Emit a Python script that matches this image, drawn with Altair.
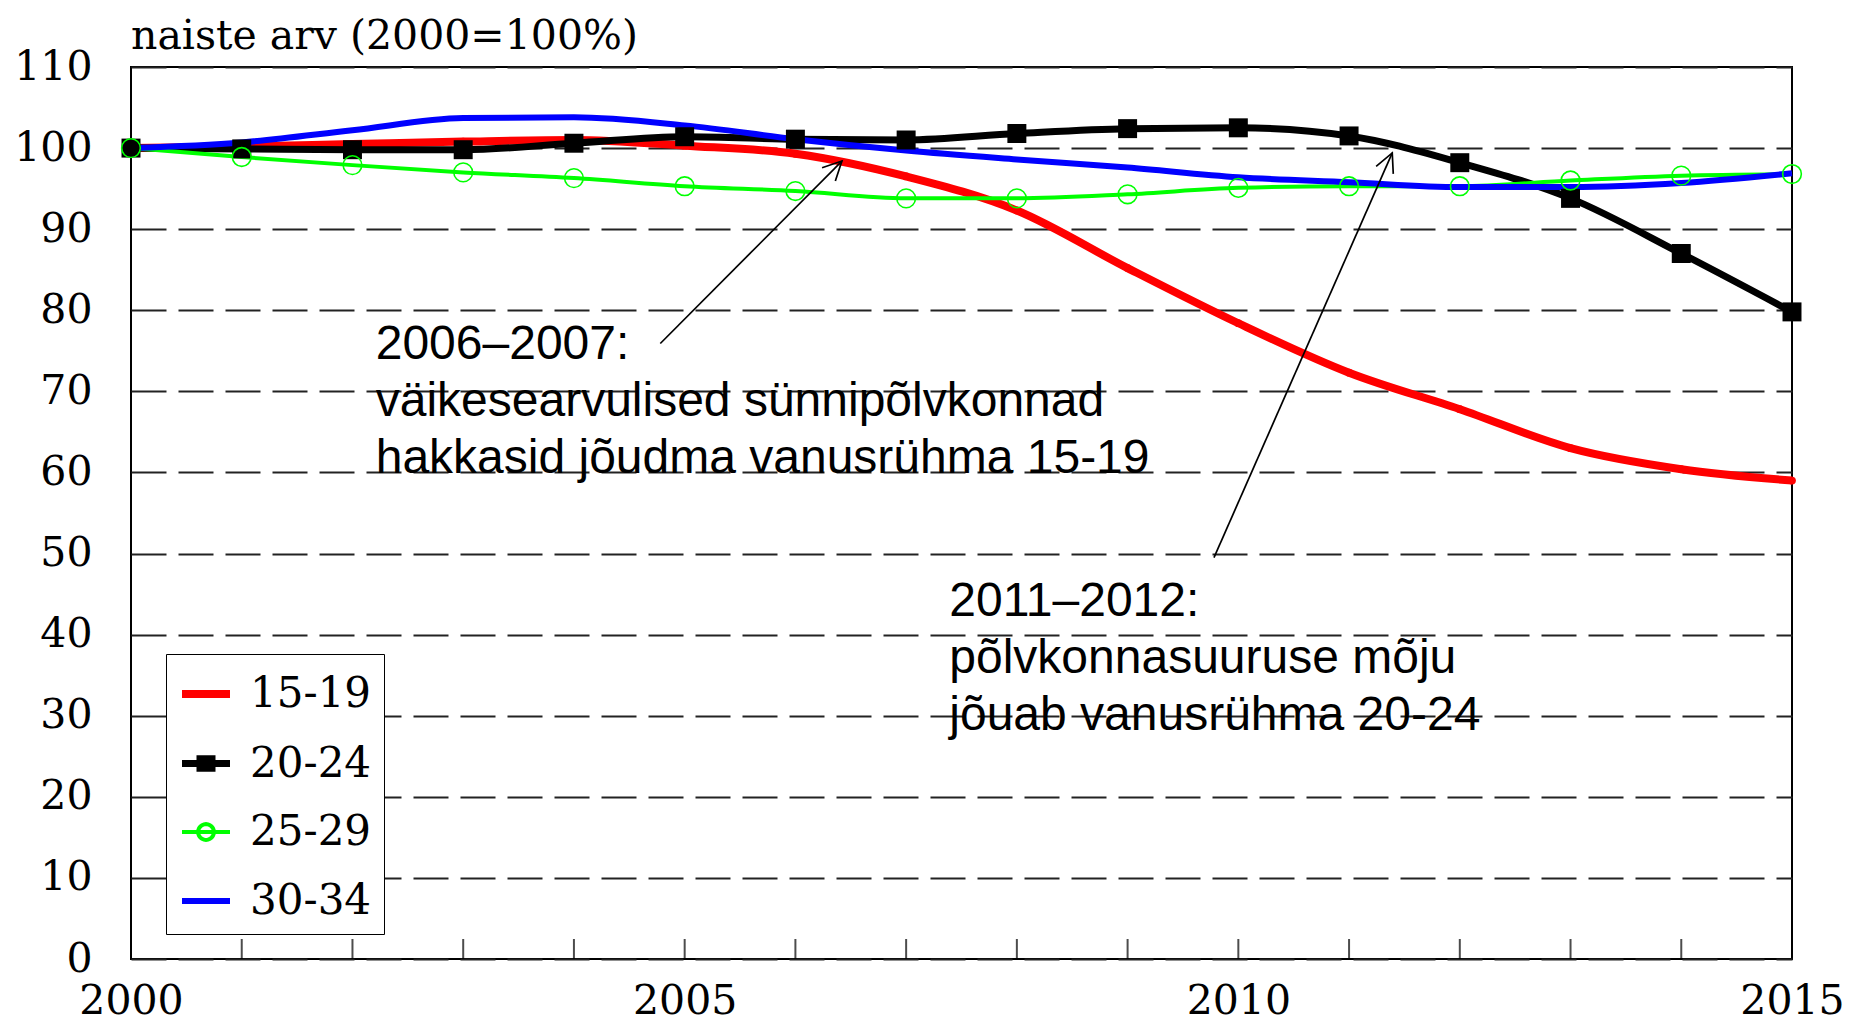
import math
import altair as alt
import pandas as pd

# ---------------- data ----------------
years = list(range(2000, 2016))
series_names = ["15-19", "20-24", "25-29", "30-34"]
v_15_19 = [100, 100.2, 100.5, 100.8, 101.0, 100.3, 99.3, 96.5, 92.3, 85.2, 78.4, 72.3, 67.8, 63.0, 60.4, 59.0]
v_20_24 = [100, 99.9, 99.8, 99.8, 100.6, 101.4, 101.1, 101.0, 101.8, 102.4, 102.5, 101.5, 98.2, 93.8, 87.0, 79.8]
v_25_29 = [100, 98.9, 97.9, 97.0, 96.3, 95.3, 94.7, 93.8, 93.8, 94.3, 95.1, 95.3, 95.3, 96.0, 96.6, 96.8]
v_30_34 = [100, 100.7, 102.2, 103.7, 103.8, 102.8, 101.1, 99.7, 98.6, 97.6, 96.4, 95.8, 95.2, 95.2, 95.7, 96.9]

x_label_years = [2000, 2005, 2010, 2015]
y_tick_values = list(range(0, 111, 10))
title_text = "naiste arv (2000=100%)"

ann_text = [
    "2006\u20132007:\nväikesearvulised sünnipõlvkonnad\nhakkasid jõudma vanusrühma 15-19",
    "2011\u20132012:\npõlvkonnasuuruse mõju\njõuab vanusrühma 20-24",
]
ann_x = [2002.21, 2007.39]
ann_y = [74.0, 42.3]

arrow_x = [2004.78, 2009.78]
arrow_y = [75.9, 49.5]
arrow_x2 = [2006.42, 2011.39]
arrow_y2 = [98.4, 99.4]

# ---------------- styles ----------------
W, H = 1661, 892
colors = ["#ff0000", "#000000", "#00ff00", "#0000ff"]
widths = [8, 7, 4, 6]
SERIF = "DejaVu Serif"
SANS = "Liberation Sans"


def circle_path(r, n=24):
    pts = []
    for i in range(n):
        a = 2 * math.pi * i / n
        pts.append(f"{r*math.cos(a):.3f},{r*math.sin(a):.3f}")
    return "M" + "L".join(pts) + "Z"


legend_shapes = [
    "M-1,0H1",
    "M-1,0H1M-0.25,-0.2H0.25V0.2H-0.25Z",
    "M-1,0H1" + circle_path(0.33),
    "M-1,0H1",
]
fills = ["#ff0000", "#000000", "transparent", "#0000ff"]
vhead = "M-0.5,1L0,0L0.5,1"

series_values = [v_15_19, v_20_24, v_25_29, v_30_34]
rows = []
for name, vals in zip(series_names, series_values):
    for yr, v in zip(years, vals):
        rows.append({"year": yr, "val": v, "series": name})
df = pd.DataFrame(rows)

df_ticks = pd.DataFrame({"year": years[1:-1]})
df_ann = pd.DataFrame({"x": ann_x, "y": ann_y, "label": ann_text})
df_arrow = pd.DataFrame({"x": arrow_x, "y": arrow_y, "x2": arrow_x2, "y2": arrow_y2})
angles = []
for x1, y1, x2, y2 in zip(arrow_x, arrow_y, arrow_x2, arrow_y2):
    dxp = (x2 - x1) * W / 15.0
    dyp = (y2 - y1) * H / 110.0
    angles.append((math.degrees(math.atan2(dxp, dyp)) + 360) % 360)
df_head = pd.DataFrame({"x": arrow_x2, "y": arrow_y2, "angle": angles})

x_scale = alt.Scale(domain=[2000, 2015], nice=False, zero=False)
y_scale = alt.Scale(domain=[0, 110], nice=False, zero=False)

x_enc = alt.X(
    "year:Q",
    scale=x_scale,
    axis=alt.Axis(
        values=x_label_years, format="d", grid=False, ticks=False, domain=False,
        labelFont=SERIF, labelFontSize=41, labelColor="black", labelPadding=54,
        labelBaseline="alphabetic", labelFlush=False, labelOverlap=False, title=None,
    ),
)
y_enc = alt.Y(
    "val:Q",
    scale=y_scale,
    axis=alt.Axis(
        values=y_tick_values, grid=True, gridDash=[35, 12], gridColor="#222", gridWidth=2,
        ticks=False, domain=False, labelFont=SERIF, labelFontSize=41, labelColor="black",
        labelPadding=39, labelFlush=False, title=None,
    ),
)

# one line layer per series (fixed colour / width)
line_layers = []
for name, col, wd in zip(series_names, colors, widths):
    line_layers.append(
        alt.Chart(df).transform_filter(alt.datum.series == name)
        .mark_line(interpolate="monotone", color=col, strokeWidth=wd)
        .encode(x=x_enc, y=y_enc)
    )

red_pts = alt.Chart(df).transform_filter(alt.datum.series == "15-19").mark_circle(
    size=60, color="#ff0000", opacity=1
).encode(x="year:Q", y="val:Q")
black_pts = alt.Chart(df).transform_filter(alt.datum.series == "20-24").mark_square(
    size=360, color="#000000", opacity=1
).encode(x="year:Q", y="val:Q")
green_pts = alt.Chart(df).transform_filter(alt.datum.series == "25-29").mark_point(
    shape="circle", size=350, filled=False, strokeWidth=1.6, color="#00ff00", opacity=1
).encode(x="year:Q", y="val:Q")

leg = alt.Legend(
    orient="none", legendX=35, legendY=587, title=None, padding=12, rowPadding=21,
    labelFont=SERIF, labelFontSize=42, labelColor="black", labelOffset=16,
    strokeColor="black", fillColor="white", symbolSize=2304, symbolOpacity=1,
    cornerRadius=0,
)
legend_layer = alt.Chart(df).mark_point(opacity=0, filled=True).encode(
    x="year:Q",
    y="val:Q",
    shape=alt.Shape("series:N", scale=alt.Scale(domain=series_names, range=legend_shapes), legend=leg),
    fill=alt.Fill("series:N", scale=alt.Scale(domain=series_names, range=fills), legend=leg),
    stroke=alt.Stroke("series:N", scale=alt.Scale(domain=series_names, range=colors), legend=leg),
    strokeWidth=alt.StrokeWidth(
        "series:N", scale=alt.Scale(type="ordinal", domain=series_names, range=widths), legend=leg
    ),
)

ticks = alt.Chart(df_ticks).mark_tick(
    orient="vertical", size=40, thickness=2, color="black", clip=True
).encode(x="year:Q", y=alt.datum(0))

arrows = alt.Chart(df_arrow).mark_rule(color="black", strokeWidth=1.7).encode(
    x="x:Q", y="y:Q", x2="x2:Q", y2="y2:Q"
)
heads = alt.Chart(df_head).mark_point(
    shape=vhead, size=1400, filled=False, strokeWidth=1.7, color="black", opacity=1
).encode(x="x:Q", y="y:Q", angle=alt.Angle("angle:Q", scale=None))

notes = alt.Chart(df_ann).mark_text(
    align="left", baseline="alphabetic", font=SANS, fontSize=48, lineHeight=57,
    lineBreak="\n", color="black",
).encode(x="x:Q", y="y:Q", text="label:N")

chart = alt.layer(
    ticks, *line_layers, red_pts, black_pts, green_pts, legend_layer, arrows, heads, notes
).properties(
    width=W,
    height=H,
    title=alt.TitleParams(
        text=title_text, anchor="start", frame="group", font=SERIF, fontSize=41,
        fontWeight="normal", color="black", offset=10, dy=22,
    ),
    autosize=alt.AutoSizeParams(type="none"),
    padding={"left": 123, "top": 59, "right": 54, "bottom": 64},
).configure_view(
    stroke="black", strokeWidth=2
).configure_legend(
    symbolOpacity=1
)

chart.save("out.html", embed_options={"renderer": "svg", "actions": False})
